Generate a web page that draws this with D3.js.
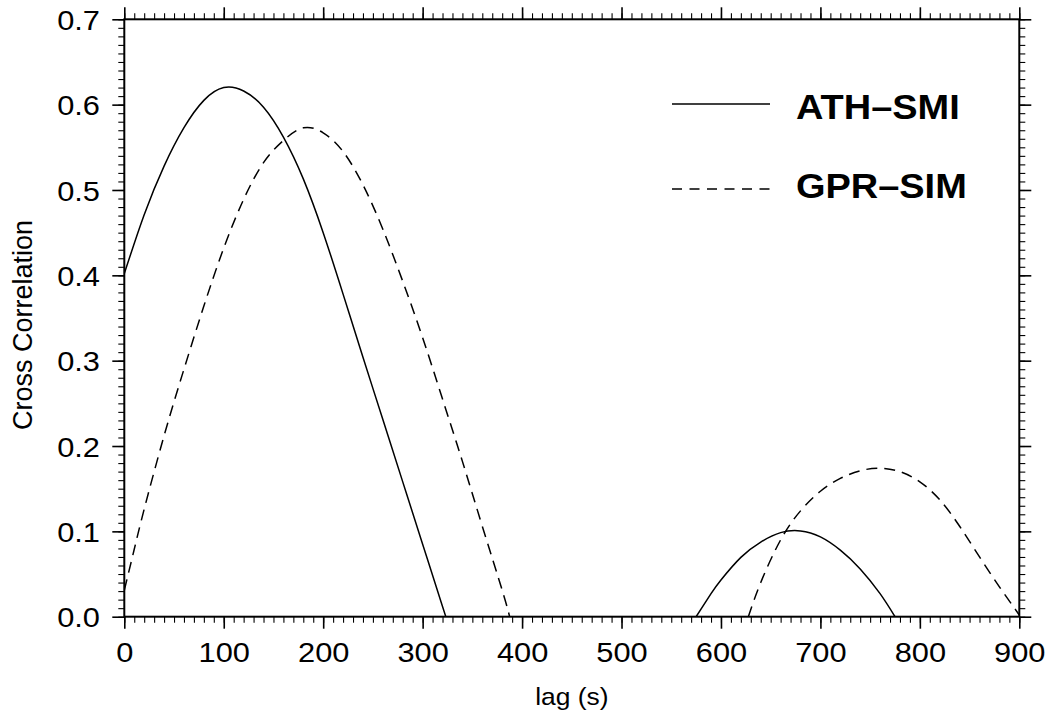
<!DOCTYPE html>
<html>
<head>
<meta charset="utf-8">
<script src="https://cdn.jsdelivr.net/npm/d3@7"></script>
<style>
  html, body { margin: 0; padding: 0; background: #fff; }
  svg { display: block; }
  text { font-family: "Liberation Sans", Arial, Helvetica, sans-serif; fill: #000; }
</style>
</head>
<body>
<svg id="chart" width="1046" height="716"></svg>
<script>
// Cross-correlation vs. lag for the two station pairs
const athLag  = [0, 20, 40, 60, 80, 100, 120, 140, 160, 180, 200, 220, 240, 260, 280, 300, 320, 323.3,
                 575, 590, 600, 620, 640, 660, 680, 700, 720, 740, 760, 775, 900];
const athCorr = [0.402, 0.471, 0.528, 0.573, 0.605, 0.620, 0.616, 0.597, 0.562, 0.513, 0.450, 0.378, 0.304, 0.231, 0.158, 0.085, 0.012, 0,
                 0, 0.027, 0.043, 0.0695, 0.0875, 0.0985, 0.1005, 0.0935, 0.078, 0.056, 0.027, 0, 0];

const gprLag  = [0, 10, 20, 40, 60, 80, 100, 120, 140, 160, 180, 200, 220, 240, 260, 280, 300, 320, 340, 360, 380, 387.5,
                 627.5, 640, 660, 680, 700, 720, 740, 760, 780, 800, 820, 840, 860, 880, 900];
const gprCorr = [0.031, 0.079, 0.126, 0.212, 0.290, 0.364, 0.432, 0.489, 0.532, 0.558, 0.5728, 0.567, 0.545, 0.506, 0.454, 0.393, 0.327, 0.255, 0.182, 0.106, 0.031, 0,
                 0, 0.040, 0.090, 0.124, 0.147, 0.162, 0.171, 0.174, 0.170, 0.158, 0.137, 0.106, 0.070, 0.035, 0.002];

const seriesNames = ["ATH\u2013SMI", "GPR\u2013SIM"];
const xMajor = d3.range(0, 901, 100);
const xMinor = d3.range(0, 901, 10);
const yMajor = d3.range(0, 0.7001, 0.1);
const yMinor = d3.range(0, 0.7001, 0.01);

const SX = 1.1;          // horizontal stretch of the lettering
const frameL = 124.3, frameR = 1019.3, frameT = 19.3, frameB = 616.7;

const svg = d3.select("#chart");
const x = d3.scaleLinear().domain([0, 900]).range([frameL, frameR]);
const y = d3.scaleLinear().domain([0, 0.7]).range([frameB, frameT]);

svg.append("defs").append("clipPath").attr("id", "plotClip")
  .append("rect").attr("x", frameL).attr("y", frameT).attr("width", frameR - frameL).attr("height", frameB - frameT);

// Split a series into smooth lobes and the flat zero stretches between them,
// so each lobe keeps its sharp take-off from the axis.
function pieces(pts) {
  const out = [];
  let cur = [pts[0]];
  for (let i = 1; i < pts.length; i++) {
    if (pts[i][1] === 0 && pts[i - 1][1] === 0) {
      if (cur.length > 1) out.push(cur);
      out.push([pts[i - 1], pts[i]]);
      cur = [pts[i]];
    } else {
      cur.push(pts[i]);
    }
  }
  if (cur.length > 1) out.push(cur);
  return out;
}

const line = d3.line().x(d => x(d[0])).y(d => y(d[1])).curve(d3.curveNatural);
const plot = svg.append("g").attr("clip-path", "url(#plotClip)");

function drawSeries(lags, vals, dash) {
  plot.selectAll(null).data(pieces(d3.zip(lags, vals))).join("path")
    .attr("d", line).attr("fill", "none").attr("stroke", "#000").attr("stroke-width", 1.5)
    .attr("stroke-dasharray", dash);
}
drawSeries(athLag, athCorr, null);
drawSeries(gprLag, gprCorr, "11,7");

// ticks on all four sides
function ticks(axis, tx, ty, values, size, width) {
  const g = svg.append("g").attr("transform", `translate(${tx},${ty})`)
    .call(axis.tickValues(values).tickSizeInner(size).tickSizeOuter(0).tickFormat(""));
  g.select(".domain").remove();
  g.selectAll("line").attr("stroke", "#000").attr("stroke-width", width);
  return g;
}
ticks(d3.axisBottom(x), 0, frameB, xMinor, 6, 1.1);
ticks(d3.axisTop(x), 0, frameT, xMinor, 6, 1.1);
ticks(d3.axisLeft(y), frameL, 0, yMinor, 6, 1.1);
ticks(d3.axisRight(y), frameR, 0, yMinor, 6, 1.1);
ticks(d3.axisTop(x), 0, frameT, xMajor, 12, 1.6);
ticks(d3.axisRight(y), frameR, 0, yMajor, 12, 1.6);

// labelled axes
const xAxis = svg.append("g").attr("transform", `translate(0,${frameB})`)
  .call(d3.axisBottom(x).tickValues(xMajor).tickSizeInner(12).tickSizeOuter(0).tickFormat(d3.format("d")));
xAxis.select(".domain").remove();
xAxis.selectAll("line").attr("stroke", "#000").attr("stroke-width", 1.6);
xAxis.selectAll("text").attr("y", 45.3).attr("dy", 0)
  .attr("transform", `scale(${SX},1)`)
  .style("font-size", "28px").style("font-family", '"Liberation Sans", Arial, sans-serif');

const yAxis = svg.append("g").attr("transform", `translate(${frameL},0)`)
  .call(d3.axisLeft(y).tickValues(yMajor).tickSizeInner(12).tickSizeOuter(0).tickFormat(d3.format(".1f")));
yAxis.select(".domain").remove();
yAxis.selectAll("line").attr("stroke", "#000").attr("stroke-width", 1.6);
yAxis.selectAll("text").attr("x", -24.3 / SX).attr("dy", "0.36em")
  .attr("transform", `scale(${SX},1)`)
  .style("font-size", "28px").style("font-family", '"Liberation Sans", Arial, sans-serif');

// frame
svg.append("rect").attr("x", frameL).attr("y", frameT).attr("width", frameR - frameL).attr("height", frameB - frameT)
  .attr("fill", "none").attr("stroke", "#000").attr("stroke-width", 2);

// axis titles
svg.append("text").attr("transform", `translate(${(frameL + frameR) / 2},705) scale(${SX},1)`)
  .attr("text-anchor", "middle").style("font-size", "24px").text("lag (s)");
svg.append("text").attr("transform", `translate(31.5,${(frameT + frameB) / 2 + 7}) rotate(-90)`)
  .attr("text-anchor", "middle").style("font-size", "27px").text("Cross Correlation");

// legend
const legendY = [104, 189];
const legendBase = [119, 198];
const dashes = [null, "10,7.5"];
seriesNames.forEach((name, i) => {
  svg.append("line").attr("x1", 672).attr("x2", 770).attr("y1", legendY[i]).attr("y2", legendY[i])
    .attr("stroke", "#000").attr("stroke-width", 1.5).attr("stroke-dasharray", dashes[i]);
  svg.append("text").attr("transform", `translate(796,${legendBase[i]}) scale(${SX},1)`)
    .style("font-size", "34.5px").style("font-weight", "bold").text(name);
});
</script>
</body>
</html>
